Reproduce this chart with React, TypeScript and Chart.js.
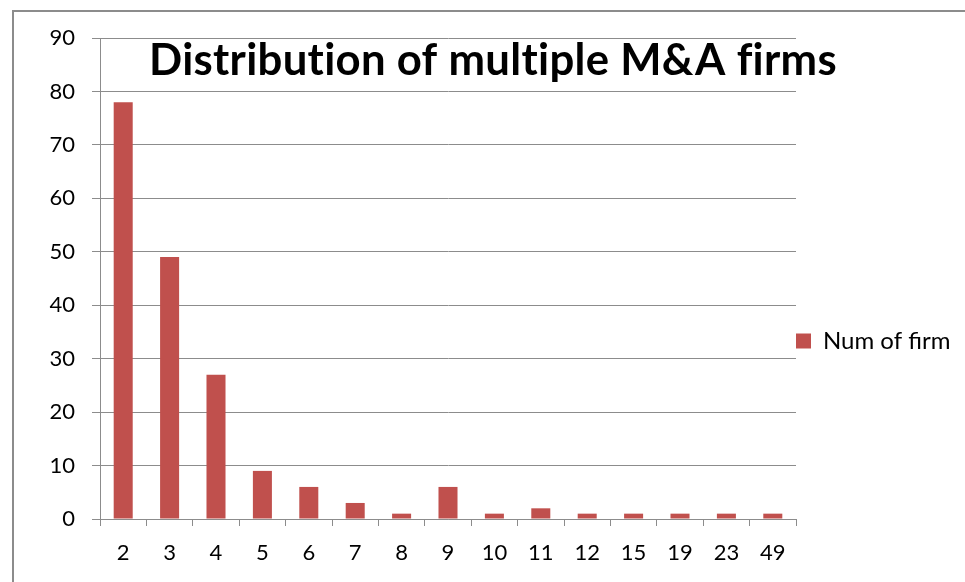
import React, { useEffect, useRef } from "react";
import { Chart, registerables } from "chart.js";

Chart.register(...registerables);

const categories = ["2", "3", "4", "5", "6", "7", "8", "9", "10", "11", "12", "15", "19", "23", "49"];
const numOfFirm = [78, 49, 27, 9, 6, 3, 1, 6, 1, 2, 1, 1, 1, 1, 1];
const seriesLabel = "Num of firm";
const titleText = "Distribution of multiple M&A firms";
const yMin = 0;
const yMax = 90;
const yStep = 10;

const FONT = "Lato, 'Open Sans', 'DejaVu Sans', sans-serif";
const GRID = "#8c8c8c";
const BAR = "#C0504D";

const decorPlugin = {
  id: "decor",
  afterInit(chart: any) {
    const lg = chart.legend;
    if (lg) {
      const orig = lg.fit.bind(lg);
      lg.fit = function () {
        orig();
        this.width = 169;
      };
    }
  },
  afterLayout(chart: any) {
    const lg = chart.legend;
    if (lg) {
      const h = lg.bottom - lg.top;
      lg.top = 341 - h / 2;
      lg.bottom = 341 + h / 2;
    }
  },
  beforeDraw(chart: any) {
    const ctx = chart.ctx;
    ctx.save();
    ctx.strokeStyle = GRID;
    ctx.lineWidth = 2;
    ctx.beginPath();
    ctx.moveTo(13, 582);
    ctx.lineTo(13, 11);
    ctx.lineTo(965, 11);
    ctx.stroke();
    ctx.restore();
  },
  afterDraw(chart: any) {
    const ctx = chart.ctx;
    ctx.save();
    try {
      (ctx as any).letterSpacing = "0.3px";
    } catch (e) {}
    let size = 37;
    ctx.font = `bold ${size}px ${FONT}`;
    const w = ctx.measureText(titleText).width;
    size = (size * 690) / w;
    ctx.font = `bold ${size}px ${FONT}`;
    ctx.fillStyle = "#000";
    ctx.textAlign = "center";
    ctx.textBaseline = "alphabetic";
    ctx.fillText(titleText, 493, 75);
    ctx.restore();
  },
};

export default function App() {
  const ref = useRef<HTMLCanvasElement | null>(null);
  useEffect(() => {
    if (!ref.current) return;
    const chart = new Chart(ref.current, {
      type: "bar",
      data: {
        labels: categories,
        datasets: [
          {
            label: seriesLabel,
            data: numOfFirm,
            backgroundColor: BAR,
            borderWidth: 0,
            categoryPercentage: 1,
            barPercentage: 0.41,
          },
        ],
      },
      options: {
        animation: false,
        responsive: true,
        maintainAspectRatio: false,
        layout: { padding: { top: 38, left: 0, right: 0, bottom: 0 } },
        plugins: {
          legend: {
            display: true,
            position: "right",
            align: "center",
            labels: {
              boxWidth: 15,
              boxHeight: 15,
              padding: 0,
              color: "#000",
              font: { family: FONT, size: 24 },
            },
          },
          title: { display: false },
          tooltip: { enabled: false },
        },
        scales: {
          x: {
            offset: true,
            grid: {
              display: true,
              offset: true,
              drawOnChartArea: false,
              drawTicks: true,
              tickLength: 7,
              color: GRID,
            },
            border: { display: true, color: GRID },
            ticks: {
              color: "#000",
              font: { family: FONT, size: 22 },
              padding: 14,
              maxRotation: 0,
              autoSkip: false,
            },
            afterFit(scale: any) {
              scale.height = 63;
            },
          },
          y: {
            min: yMin,
            max: yMax,
            grid: {
              color: GRID,
              tickLength: 8,
              drawTicks: true,
            },
            border: { display: true, color: GRID },
            ticks: {
              stepSize: yStep,
              color: "#000",
              font: { family: FONT, size: 22 },
              padding: 17,
            },
            afterFit(scale: any) {
              scale.width = 100;
            },
          },
        },
      },
      plugins: [decorPlugin],
    });
    return () => chart.destroy();
  }, []);
  return (
    <div style={{ position: "fixed", left: 0, top: 0, width: 965, height: 582, background: "#fff" }}>
      <canvas ref={ref} />
    </div>
  );
}
